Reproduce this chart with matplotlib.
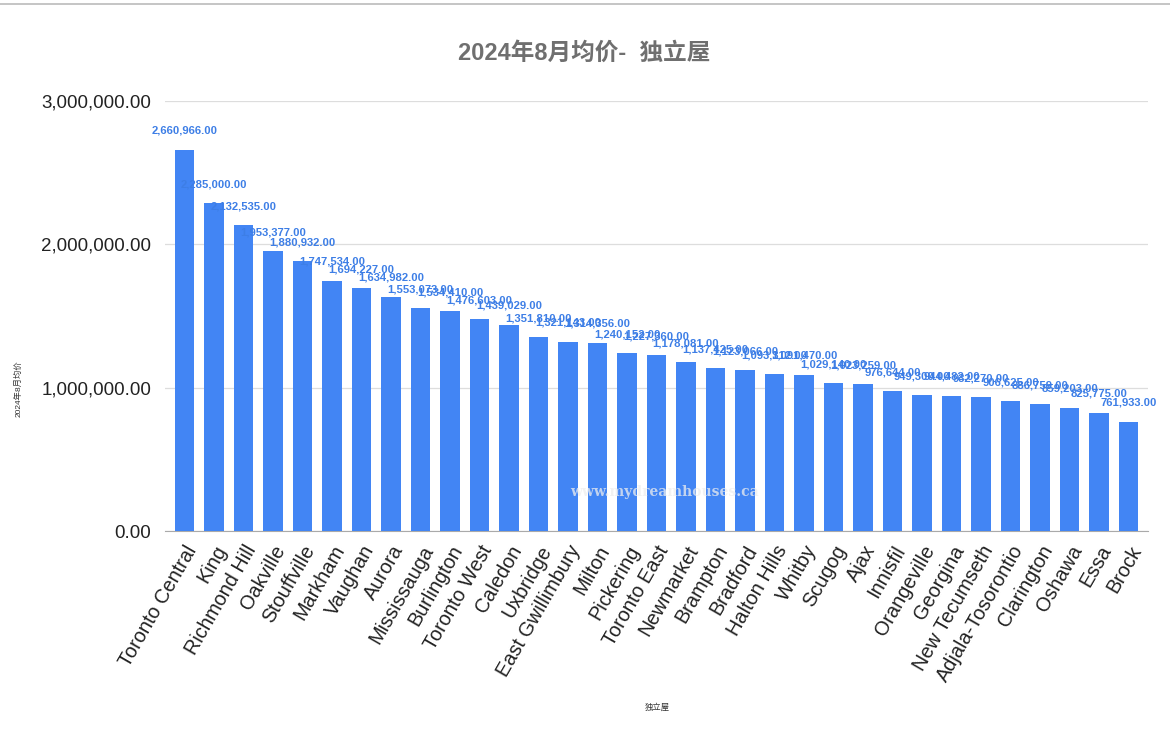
import matplotlib.pyplot as plt
from matplotlib.lines import Line2D

plt.rcParams['font.family'] = ['Liberation Sans', 'Noto Sans CJK SC', 'DejaVu Sans']

# 2024年8月 独立屋 average prices
cities = ["Toronto Central", "King", "Richmond Hill", "Oakville", "Stouffville",
          "Markham", "Vaughan", "Aurora", "Mississauga", "Burlington",
          "Toronto West", "Caledon", "Uxbridge", "East Gwillimbury", "Milton",
          "Pickering", "Toronto East", "Newmarket", "Brampton", "Bradford",
          "Halton Hills", "Whitby", "Scugog", "Ajax", "Innisfil",
          "Orangeville", "Georgina", "New Tecumseth", "Adjala-Tosorontio",
          "Clarington", "Oshawa", "Essa", "Brock"]
prices = [2660966, 2285000, 2132535, 1953377, 1880932,
          1747534, 1694227, 1634982, 1553073, 1534410,
          1476603, 1439029, 1351810, 1321143, 1314356,
          1240152, 1227360, 1178081, 1137425, 1123066,
          1093312, 1091470, 1029140, 1023259, 976644,
          949300, 944482, 932270, 906625, 886759,
          859203, 825775, 761933]
yticks = [0, 1000000, 2000000, 3000000]

bar_color = "#4285f4"
label_color = "#3d7ee6"

fig = plt.figure(figsize=(11.7, 7.33), dpi=100)
ax = fig.add_axes([165 / 1170, 1 - 531 / 733, (1148 - 165) / 1170, (531 - 101) / 733])

x = range(len(cities))
ax.bar(x, prices, width=0.66, color=bar_color, zorder=3)

for i, v in enumerate(prices):
    ax.annotate(f"{v:,.2f}", (i, v), xytext=(0, 10), textcoords="offset points",
                ha="center", va="bottom", fontsize=8.1, fontweight="bold",
                color=label_color, zorder=4)

ax.set_xlim(-0.66, len(cities) - 0.34)
ax.set_ylim(0, 3000000)
ax.set_yticks(yticks)
ax.set_yticklabels([f"{t:,.2f}" for t in yticks], fontsize=13.5, color="#222222")
ax.set_xticks(list(x))
ax.set_xticklabels(cities, rotation=60, ha="right", rotation_mode="anchor",
                   fontsize=14.3, color="#222222")
ax.tick_params(axis="both", length=0)
ax.tick_params(axis="x", pad=8)
ax.tick_params(axis="y", pad=10)
ax.grid(axis="y", color="#dddddd", linewidth=0.9, zorder=0)
for s in ["top", "right", "left"]:
    ax.spines[s].set_visible(False)
ax.spines["bottom"].set_color("#aaaaaa")

ax.set_ylabel("2024年8月均价", fontsize=6, color="#333333", labelpad=4)
ax.yaxis.set_label_coords(-0.145, 0.33)
fig.text(657 / 1170, 1 - 707 / 733, "独立屋", fontsize=6, color="#333333",
         ha="center", va="center")

fig.text(584 / 1170, 1 - 53 / 733, "2024年8月均价-  独立屋", fontsize=17,
         fontweight="bold", color="#6f6f6f", ha="center", va="center")

# watermark
fig.text(665 / 1170, 1 - 492 / 733, "www.mydreamhouses.ca", fontsize=10,
         family="DejaVu Serif", fontweight="bold", color="#eeeeee", alpha=0.75,
         ha="center", va="center", zorder=10)

# spreadsheet edge at the top
fig.add_artist(Line2D([0, 1], [1 - 4 / 733, 1 - 4 / 733], color="#bbbbbb", linewidth=1.2))

fig.savefig("out.png", dpi=100)
